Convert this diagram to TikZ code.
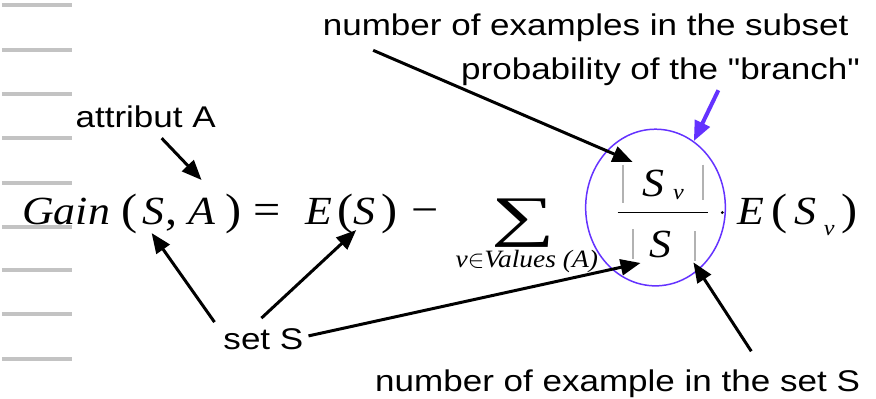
\documentclass[tikz,border=0pt]{standalone}
\usepackage{fontspec}
\usepackage{amsmath}
\newfontfamily\labelfont[FakeStretch=1.17]{Liberation Sans}
\newfontfamily\formfont[FakeStretch=1.1]{Liberation Serif}
\newfontfamily\sumfont[FakeStretch=1.6]{Liberation Serif}
\usetikzlibrary{arrows.meta,shapes.geometric,calc}
\definecolor{branchblue}{RGB}{100,50,255}
\definecolor{rulegray}{RGB}{195,195,195}

\begin{document}
\begin{tikzpicture}[x=1pt, y=-1pt,
  lbl/.style={inner sep=0, anchor=base, font=\labelfont\fontsize{30}{36}\selectfont},
  frm/.style={inner sep=0, anchor=base, font=\formfont\itshape\fontsize{40}{48}\selectfont},
  frmup/.style={inner sep=0, anchor=base, font=\formfont\upshape\fontsize{44}{50}\selectfont},
  idx/.style={inner sep=0, anchor=base, font=\formfont\itshape\fontsize{22}{26}\selectfont},
  arr/.style={line width=3pt, -{Triangle[length=20pt, width=16pt]}},
  barr/.style={arr, branchblue, line width=4pt}]
  \fill[white] (0,0) rectangle (876,399);
  \foreach \y in {5,50,94,138,183,228,271,315,360}
    \draw[rulegray, line width=4pt] (0,\y) -- (70,\y);
  % left side of the formula
  \node[frm, anchor=base west] (gain) at (20,225) {Gain};
  \node[frmup] (lpa) at (128,225) {(};
  \node[frm] (sa) at (152,225) {S};
  \node[frmup] (comma) at (170,225) {,};
  \node[frm] (att) at (200,225) {A};
  \node[frmup] (rpa) at (232,225) {)};
  \node[frmup] (eq) at (266,225) {=};
  \node[frm] (ea) at (318,225) {E};
  \node[frmup] (lpb) at (344,225) {(};
  \node[frm] (sb) at (363,225) {S};
  \node[frmup] (rpb) at (388,225) {)};
  \node[frmup] (minus) at (424,225) {−};
  % sum and fraction
  \node[inner sep=0, anchor=base, font=\sumfont\fontsize{56}{60}\selectfont] (sum) at (523,236) {∑};
  \node[idx, font=\formfont\itshape\fontsize{25}{28}\selectfont] (range) at (526,268) {v$\in$Values~(A)};
  \node[frm] (snum) at (653,197) {S};
  \node[idx] (vnum) at (678,200) {v};
  \node[frm] (sden) at (660,258) {S};
  \draw[line width=1.5pt] (617,213) -- (708,213);
  \foreach \x/\ya/\yb in {622/165/203, 703/165/200, 632/230/260, 695/232/262}
    \draw[gray!60, line width=2pt] (\x,\ya) -- (\x,\yb);
  \fill (722,213) circle (1.6);
  \node[frm] (eb) at (751,225) {E};
  \node[frmup] (lpc) at (779,225) {(};
  \node[frm] (sc) at (805,225) {S};
  \node[idx] (vc) at (829,236) {v};
  \node[frmup] (rpc) at (849,225) {)};
  \node[draw=branchblue, line width=1.5pt, ellipse, minimum width=140pt, minimum height=157pt, inner sep=0] (branch) at (655,208) {};
  % labels
  \node[lbl] (attr) at (144,128) {attribut A};
  \node[lbl] (sets) at (262,350) {set S};
  \node[lbl] (nsub) at (585,36) {number of examples in the subset};
  \node[lbl] (prob) at (660,80) {probability of the "branch"};
  \node[lbl] (nset) at (617,392) {number of example in the set S};
  \draw[arr] ([shift={(16,10)}]attr.south) -- ([shift={(0,-18)}]att.north);
  \draw[arr] ([shift={(-49,-6)}]sets.north) -- ([shift={(-2,8)}]sa.south);
  \draw[arr] ([shift={(-2,-10)}]sets.north) -- ([shift={(-8,5)}]sb.south);
  \draw[arr] ([shift={(5,-3)}]sets.east) -- ([shift={(-20,5)}]sden.south);
  \draw[arr] ([shift={(-213,8)}]nsub.south) -- ([shift={(-21,-8)}]snum.north);
  \draw[barr] ([shift={(58,4)}]prob.south) -- (branch.60);
  \draw[arr] ([shift={(134,-18)}]nset.north) -- ([shift={(38,55)}]branch.center);
\end{tikzpicture}
\end{document}
